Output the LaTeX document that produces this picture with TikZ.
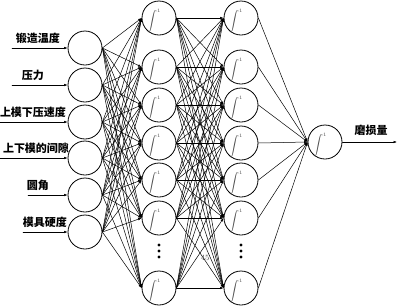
\documentclass[tikz,border=0pt]{standalone}
\usepackage{fontspec}
\newfontfamily\cjk{Noto Sans CJK SC}
\usetikzlibrary{
    arrows.meta,
    calc
}

\begin{document}
\begin{tikzpicture}[
    x=1pt,
    y=-1pt,
    >={Latex[length=3.5pt,width=2.5pt]},
    line cap=round,
    line join=round,
    neuron/.style={draw, thick, circle, minimum size=34pt, inner sep=0pt},
    act/.style={gray!60!black, inner sep=0pt, font=\footnotesize},
    link/.style={->, line width=0.5pt},
    feature/.style={font=\cjk\bfseries\fontsize{11}{13}\selectfont, inner sep=0pt},
    every node/.style={font=\small}
]

\useasboundingbox (0,0) rectangle (400,306);

% -------------------------------------------------
% Input layer
% -------------------------------------------------

\foreach \i/\y in {1/48, 2/85, 3/122, 4/158, 5/195, 6/232}
    \node[neuron] (in\i) at (85,\y) {};

% -------------------------------------------------
% Hidden layers
% -------------------------------------------------

\foreach \i/\y in {1/18, 2/67, 3/105, 4/143, 5/180, 6/218, 7/288} {
    \node[neuron] (h\i) at (159,\y) {};
    \node[act] (fh\i) at ($(h\i)+(-5,3)$) {$\displaystyle\int^{\scriptscriptstyle 1}$};
    \node[neuron] (g\i) at (241,\y) {};
    \node[act] (fg\i) at ($(g\i)+(-5,3)$) {$\displaystyle\int^{\scriptscriptstyle 1}$};
}

% Ellipsis dots
\foreach \y in {245, 251, 257} {
    \fill (159,\y) circle (1.6pt);
    \fill (241,\y) circle (1.6pt);
}

% -------------------------------------------------
% Output layer
% -------------------------------------------------

\node[neuron] (out) at (325,142) {};
\node[act] (fout) at ($(out)+(-5,3)$) {$\displaystyle\int^{\scriptscriptstyle 1}$};

% -------------------------------------------------
% Connections
% -------------------------------------------------

\foreach \i in {1,...,6}
    \foreach \j in {1,...,7}
        \draw[link] (in\i.east) -- (h\j.west);

\foreach \i in {1,...,7}
    \foreach \j in {1,...,7}
        \draw[link] (h\i.east) -- (g\j.west);

\foreach \i in {1,...,7}
    \draw[link] (g\i.east) -- (out.west);

% -------------------------------------------------
% Input features
% -------------------------------------------------

\foreach \i/\xs/\lx/\txt in {
    1/12/38/锻造温度,
    2/12/33/压力,
    3/0/33/上模下压速度,
    4/0/36/上下模的间隙,
    5/28/38/圆角,
    6/23/45/模具硬度}
{
    \coordinate (src\i) at (\xs,0 |- in\i.west);
    \draw[link] (src\i) -- (in\i.west);
    \node[feature] (lab\i) at ($(\lx,0 |- in\i.west)+(0,-10)$) {\txt};
}

% -------------------------------------------------
% Output
% -------------------------------------------------

\coordinate (sink) at (397,142);
\draw[link] (out.east) -- (sink);
\node[feature] (wear) at (371,130) {磨损量};

% page mark
\node[font=\footnotesize, gray!60!black] (pg) at (205,258) {45};

\end{tikzpicture}
\end{document}
